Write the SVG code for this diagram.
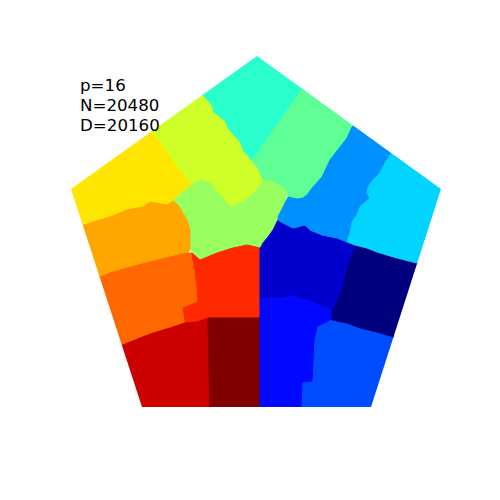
<svg xmlns="http://www.w3.org/2000/svg" width="500" height="500" viewBox="0 0 500 500">
<style>
.r{stroke-width:1;stroke-linejoin:round}
text{font-family:"DejaVu Sans",sans-serif;font-size:16.67px;fill:#000}
</style>
<defs>
<clipPath id="pent"><polygon points="257,56 441,189 371,407 142,407 71,189"/></clipPath>
</defs>
<rect width="500" height="500" fill="#fff"/>
<g id="regions" clip-path="url(#pent)">
<polygon id="cyan" class="r" fill="#29ffcd" stroke="#29ffcd" points="195,90 257,50 310,85 255,157 250,160 248,157 242,150 240,143 227,128 225,122 213,112 211,105 202,95"/>
<polygon id="lightgreen" class="r" fill="#60ff96" stroke="#60ff96" points="302,89 310,85 360,120 352,127 347,138 340,147 330,160 322,177 313,187 307,195 303,198 297,199 288,197 287,192 280,186 270,180 263,181 260,175 257,168 250,160 255,157"/>
<polygon id="yellowgreen" class="r" fill="#ceff29" stroke="#ceff29" points="145,125 195,90 202,95 211,105 213,112 225,122 227,128 240,143 242,150 248,157 250,160 257,168 260,175 263,181 255,192 243,202 230,207 220,195 210,183 200,180 190,186 190,183 177,167 167,153 152,132"/>
<polygon id="yellow" class="r" fill="#ffe600" stroke="#ffe600" points="60,180 145,125 152,132 167,153 177,167 190,183 190,186 173,201 167,205 150,202 143,207 127,210 110,217 93,222 75,228"/>
<polygon id="green" class="r" fill="#97ff60" stroke="#97ff60" points="173,201 190,186 200,180 210,183 220,195 230,207 243,202 255,192 263,181 270,180 280,186 287,192 285,203 278,217 275,227 267,240 260,247 260,250 247,245 233,248 217,253 200,260 193,260 192,253 190,247 190,230 187,220 183,213 178,205"/>
<polygon id="orange" class="r" fill="#ffa700" stroke="#ffa700" points="75,228 93,222 110,217 127,210 143,207 150,202 167,205 173,201 178,205 183,213 187,220 190,230 190,247 190,250 187,253 170,257 150,262 127,268 110,273 92,280"/>
<polygon id="darkorange" class="r" fill="#ff6800" stroke="#ff6800" points="92,280 110,273 127,268 150,262 170,257 187,253 192,253 193,260 195,270 197,287 198,302 183,308 185,320 185,323 170,328 153,333 140,338 115,348"/>
<polygon id="red" class="r" fill="#ff2900" stroke="#ff2900" points="192,253 200,260 217,253 233,248 247,245 260,248 260,318 208,318 197,322 185,323 185,320 183,308 198,302 197,287 195,270 193,260"/>
<polygon id="darkred" class="r" fill="#cd0000" stroke="#cd0000" points="115,348 140,338 153,333 170,328 185,323 197,322 208,318 210,412 130,412"/>
<polygon id="maroon" class="r" fill="#800000" stroke="#800000" points="208,318 260,318 260,412 210,412"/>
<polygon id="blue" class="r" fill="#0008ff" stroke="#0008ff" points="260,298 283,297 290,295 310,300 332,310 332,320 318,327 315,340 313,382 303,383 302,412 260,412"/>
<polygon id="lightblue" class="r" fill="#004cff" stroke="#004cff" points="332,320 347,323 360,328 377,332 400,339 380,412 302,412 303,383 313,382 315,340 318,327"/>
<polygon id="navy" class="r" fill="#00007f" stroke="#00007f" points="332,310 337,300 342,287 347,267 352,253 355,245 367,248 377,252 397,258 425,265 400,339 377,332 360,328 347,323 332,320"/>
<polygon id="darkblue" class="r" fill="#0000cd" stroke="#0000cd" points="260,249 263,243 268,237 273,230 278,220 283,223 293,228 305,225 310,230 322,235 337,238 347,242 355,245 352,253 347,267 342,287 337,300 332,310 310,300 290,295 283,297 260,298"/>
<polygon id="azure" class="r" fill="#0090ff" stroke="#0090ff" points="352,127 360,120 395,146 390,155 385,163 380,173 373,180 368,187 367,193 370,198 360,207 357,215 352,222 350,233 347,242 337,238 322,235 310,230 305,225 293,228 283,223 278,220 278,217 285,203 288,197 297,199 303,198 307,195 313,187 322,177 330,160 340,147 347,138"/>
<polygon id="skyblue" class="r" fill="#00d4ff" stroke="#00d4ff" points="395,146 450,185 425,265 397,258 377,252 367,248 355,245 347,242 350,233 352,222 357,215 360,207 370,198 367,193 368,187 373,180 380,173 385,163 390,155"/>
</g>
<g id="labels">
<text x="80" y="90.5">p=16</text>
<text x="80" y="111">N=20480</text>
<text x="80" y="131.3">D=20160</text>
</g>
</svg>
